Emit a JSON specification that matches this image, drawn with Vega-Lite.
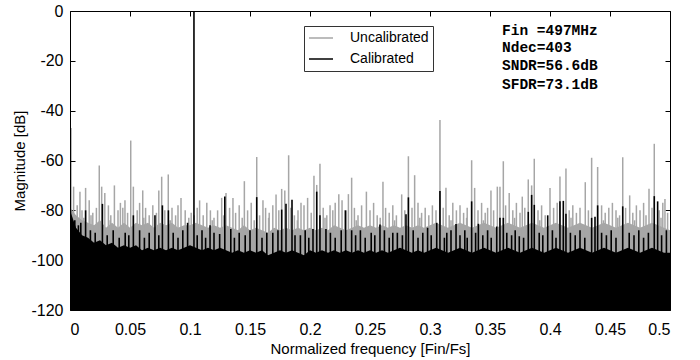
{
  "$schema": "https://vega.github.io/schema/vega-lite/v6.json",
  "width": 600,
  "height": 299,
  "autosize": {"type": "none"},
  "padding": {"left": 70, "top": 11, "right": 30, "bottom": 50},
  "background": "white",
  "config": {
    "font": "Liberation Sans",
    "view": {"stroke": "#000", "strokeWidth": 1},
    "axis": {"domain": false, "grid": false, "tickColor": "#000000", "tickWidth": 1, "labelColor": "#000", "labelFont": "Liberation Sans", "labelFontSize": 16, "titleColor": "#000", "titleFont": "Liberation Sans", "titleFontSize": 15, "titleFontWeight": "normal", "zindex": 1},
    "axisX": {"labelPadding": 16, "titlePadding": 4},
    "axisY": {"labelPadding": 12, "titlePadding": 3},
    "legend": {"orient": "none", "legendX": 234, "legendY": 15, "strokeColor": "#333", "fillColor": "white", "padding": 4, "labelFont": "Liberation Sans", "labelFontSize": 14, "labelColor": "#000", "symbolType": "stroke", "symbolSize": 576, "symbolStrokeWidth": 1.5, "labelOffset": 16, "rowPadding": 5, "clipHeight": 16, "title": null}
  },
  "datasets": {
    "floor": [
      {"f":0,"u":-79,"c":-80},{"f":0.005,"u":-82,"c":-87},{"f":0.01,"u":-84,"c":-90},{"f":0.015,"u":-85,"c":-91},{"f":0.02,"u":-86,"c":-93},
      {"f":0.025,"u":-84,"c":-92},{"f":0.03,"u":-87,"c":-94},{"f":0.035,"u":-85,"c":-93},{"f":0.04,"u":-87,"c":-95},{"f":0.045,"u":-85,"c":-94},
      {"f":0.05,"u":-87,"c":-95},{"f":0.055,"u":-85,"c":-94},{"f":0.06,"u":-86,"c":-96},{"f":0.065,"u":-85,"c":-95},{"f":0.07,"u":-87,"c":-96},
      {"f":0.075,"u":-85,"c":-95},{"f":0.08,"u":-86,"c":-96},{"f":0.085,"u":-85,"c":-95},{"f":0.09,"u":-87,"c":-96},{"f":0.095,"u":-86,"c":-95},
      {"f":0.1,"u":-86,"c":-94},{"f":0.105,"u":-85,"c":-95},{"f":0.11,"u":-86,"c":-96},{"f":0.115,"u":-87,"c":-95},{"f":0.12,"u":-86,"c":-96},
      {"f":0.125,"u":-87,"c":-95},{"f":0.13,"u":-86,"c":-96},{"f":0.135,"u":-87,"c":-97},{"f":0.14,"u":-88,"c":-96},{"f":0.145,"u":-86,"c":-97},
      {"f":0.15,"u":-88,"c":-96},{"f":0.155,"u":-87,"c":-97},{"f":0.16,"u":-88,"c":-96},{"f":0.165,"u":-89,"c":-98},{"f":0.17,"u":-87,"c":-97},
      {"f":0.175,"u":-88,"c":-96},{"f":0.18,"u":-87,"c":-97},{"f":0.185,"u":-88,"c":-96},{"f":0.19,"u":-87,"c":-97},{"f":0.195,"u":-88,"c":-98},
      {"f":0.2,"u":-87,"c":-96},{"f":0.205,"u":-88,"c":-97},{"f":0.21,"u":-87,"c":-96},{"f":0.215,"u":-88,"c":-97},{"f":0.22,"u":-86,"c":-96},
      {"f":0.225,"u":-87,"c":-97},{"f":0.23,"u":-88,"c":-96},{"f":0.235,"u":-87,"c":-97},{"f":0.24,"u":-86,"c":-96},{"f":0.245,"u":-87,"c":-97},
      {"f":0.25,"u":-86,"c":-96},{"f":0.255,"u":-87,"c":-97},{"f":0.26,"u":-86,"c":-96},{"f":0.265,"u":-87,"c":-97},{"f":0.27,"u":-86,"c":-96},
      {"f":0.275,"u":-87,"c":-95},{"f":0.28,"u":-86,"c":-96},{"f":0.285,"u":-87,"c":-97},{"f":0.29,"u":-86,"c":-96},{"f":0.295,"u":-87,"c":-97},
      {"f":0.3,"u":-86,"c":-96},{"f":0.305,"u":-85,"c":-95},{"f":0.31,"u":-86,"c":-96},{"f":0.315,"u":-87,"c":-97},{"f":0.32,"u":-86,"c":-96},
      {"f":0.325,"u":-85,"c":-95},{"f":0.33,"u":-86,"c":-96},{"f":0.335,"u":-87,"c":-97},{"f":0.34,"u":-86,"c":-96},{"f":0.345,"u":-85,"c":-95},
      {"f":0.35,"u":-86,"c":-96},{"f":0.355,"u":-87,"c":-97},{"f":0.36,"u":-86,"c":-96},{"f":0.365,"u":-85,"c":-95},{"f":0.37,"u":-86,"c":-96},
      {"f":0.375,"u":-87,"c":-97},{"f":0.38,"u":-86,"c":-96},{"f":0.385,"u":-85,"c":-95},{"f":0.39,"u":-86,"c":-96},{"f":0.395,"u":-87,"c":-97},
      {"f":0.4,"u":-86,"c":-96},{"f":0.405,"u":-85,"c":-95},{"f":0.41,"u":-86,"c":-96},{"f":0.415,"u":-87,"c":-97},{"f":0.42,"u":-86,"c":-96},
      {"f":0.425,"u":-85,"c":-95},{"f":0.43,"u":-86,"c":-96},{"f":0.435,"u":-87,"c":-97},{"f":0.44,"u":-86,"c":-96},{"f":0.445,"u":-85,"c":-95},
      {"f":0.45,"u":-86,"c":-96},{"f":0.455,"u":-87,"c":-97},{"f":0.46,"u":-86,"c":-96},{"f":0.465,"u":-85,"c":-95},{"f":0.47,"u":-86,"c":-96},
      {"f":0.475,"u":-87,"c":-97},{"f":0.48,"u":-86,"c":-96},{"f":0.485,"u":-85,"c":-95},{"f":0.49,"u":-86,"c":-96},{"f":0.495,"u":-87,"c":-97},
      {"f":0.5,"u":-88,"c":-97}
    ],
    "gs": [
      {"f":0.003,"v":-70.5},{"f":0.0083,"v":-72.5},{"f":0.013,"v":-71},{"f":0.0244,"v":-62},{"f":0.0264,"v":-70.5},{"f":0.029,"v":-73},
      {"f":0.037,"v":-70},{"f":0.042,"v":-77},{"f":0.0458,"v":-76},{"f":0.0506,"v":-52},{"f":0.0528,"v":-70.5},{"f":0.0606,"v":-72},
      {"f":0.074,"v":-72},{"f":0.0764,"v":-66.5},{"f":0.0819,"v":-65.6},{"f":0.0925,"v":-75},{"f":0.108,"v":-76},{"f":0.114,"v":-77},
      {"f":0.1264,"v":-75},{"f":0.13,"v":-73},{"f":0.1358,"v":-75},{"f":0.1453,"v":-68.3},{"f":0.1556,"v":-58.6},{"f":0.1608,"v":-76},
      {"f":0.1717,"v":-73.6},{"f":0.1764,"v":-71.4},{"f":0.179,"v":-72},{"f":0.1822,"v":-57.9},{"f":0.1925,"v":-77},{"f":0.198,"v":-75},
      {"f":0.2033,"v":-66.1},{"f":0.2056,"v":-69.8},{"f":0.2083,"v":-61.3},{"f":0.2167,"v":-78},{"f":0.224,"v":-73.5},{"f":0.2267,"v":-76},
      {"f":0.232,"v":-73.5},{"f":0.2347,"v":-66.9},{"f":0.247,"v":-72.5},{"f":0.2608,"v":-68.5},{"f":0.2764,"v":-73.6},{"f":0.282,"v":-58.3},
      {"f":0.2872,"v":-65.9},{"f":0.3083,"v":-43.7},{"f":0.3133,"v":-70.9},{"f":0.3347,"v":-59.9},{"f":0.3372,"v":-71},{"f":0.3508,"v":-72},
      {"f":0.3561,"v":-70.5},{"f":0.3583,"v":-70.5},{"f":0.3611,"v":-60.3},{"f":0.366,"v":-73},{"f":0.3769,"v":-74.5},{"f":0.3819,"v":-67.6},
      {"f":0.3847,"v":-70},{"f":0.3869,"v":-59.3},{"f":0.4,"v":-71},{"f":0.4083,"v":-66.4},{"f":0.4133,"v":-63.2},{"f":0.4294,"v":-68.7},
      {"f":0.4347,"v":-58.9},{"f":0.4397,"v":-62.6},{"f":0.4606,"v":-58.7},{"f":0.4664,"v":-74},{"f":0.4825,"v":-71.3},{"f":0.4869,"v":-53.3},
      {"f":0.4958,"v":-75.5},
      {"f":0.006,"v":-78},{"f":0.01,"v":-80},{"f":0.016,"v":-76},{"f":0.019,"v":-81},{"f":0.022,"v":-79},{"f":0.032,"v":-78},{"f":0.034,"v":-82},
      {"f":0.04,"v":-80},{"f":0.044,"v":-79},{"f":0.048,"v":-81},{"f":0.056,"v":-80},{"f":0.058,"v":-77},{"f":0.063,"v":-79},{"f":0.066,"v":-82},
      {"f":0.069,"v":-78},{"f":0.072,"v":-81},{"f":0.079,"v":-80},{"f":0.085,"v":-79},{"f":0.088,"v":-82},{"f":0.09,"v":-78},{"f":0.096,"v":-80},
      {"f":0.099,"v":-83},{"f":0.101,"v":-81},{"f":0.106,"v":-79},{"f":0.111,"v":-82},{"f":0.117,"v":-80},{"f":0.12,"v":-83},{"f":0.123,"v":-80},
      {"f":0.128,"v":-82},{"f":0.133,"v":-79},{"f":0.138,"v":-81},{"f":0.141,"v":-78},{"f":0.148,"v":-80},{"f":0.151,"v":-77},{"f":0.158,"v":-82},
      {"f":0.163,"v":-79},{"f":0.166,"v":-81},{"f":0.169,"v":-78},{"f":0.174,"v":-80},{"f":0.184,"v":-79},{"f":0.187,"v":-82},{"f":0.19,"v":-80},
      {"f":0.195,"v":-78},{"f":0.201,"v":-81},{"f":0.211,"v":-79},{"f":0.214,"v":-82},{"f":0.219,"v":-80},{"f":0.221,"v":-77},{"f":0.229,"v":-80},
      {"f":0.237,"v":-79},{"f":0.24,"v":-82},{"f":0.243,"v":-78},{"f":0.25,"v":-80},{"f":0.253,"v":-77},{"f":0.256,"v":-82},{"f":0.263,"v":-79},
      {"f":0.266,"v":-81},{"f":0.269,"v":-78},{"f":0.272,"v":-82},{"f":0.279,"v":-80},{"f":0.285,"v":-79},{"f":0.29,"v":-77},{"f":0.293,"v":-81},
      {"f":0.296,"v":-79},{"f":0.299,"v":-82},{"f":0.302,"v":-78},{"f":0.305,"v":-80},{"f":0.311,"v":-79},{"f":0.316,"v":-82},{"f":0.319,"v":-77},
      {"f":0.322,"v":-80},{"f":0.325,"v":-78},{"f":0.328,"v":-81},{"f":0.331,"v":-79},{"f":0.34,"v":-80},{"f":0.343,"v":-77},{"f":0.346,"v":-81},
      {"f":0.348,"v":-79},{"f":0.353,"v":-80},{"f":0.363,"v":-78},{"f":0.369,"v":-80},{"f":0.372,"v":-77},{"f":0.375,"v":-81},{"f":0.379,"v":-79},
      {"f":0.39,"v":-80},{"f":0.393,"v":-78},{"f":0.396,"v":-82},{"f":0.403,"v":-79},{"f":0.406,"v":-77},{"f":0.416,"v":-80},{"f":0.419,"v":-78},
      {"f":0.422,"v":-81},{"f":0.425,"v":-79},{"f":0.432,"v":-80},{"f":0.443,"v":-78},{"f":0.446,"v":-81},{"f":0.449,"v":-79},{"f":0.452,"v":-77},
      {"f":0.455,"v":-80},{"f":0.458,"v":-82},{"f":0.463,"v":-79},{"f":0.469,"v":-81},{"f":0.472,"v":-78},{"f":0.475,"v":-80},{"f":0.478,"v":-77},
      {"f":0.48,"v":-82},{"f":0.485,"v":-79},{"f":0.491,"v":-80},{"f":0.494,"v":-77},{"f":0.498,"v":-81},
      {"f":0.0115,"v":-83},{"f":0.0175,"v":-82},{"f":0.0335,"v":-84},{"f":0.0615,"v":-83},{"f":0.0835,"v":-84},{"f":0.1035,"v":-82},{"f":0.1185,"v":-84},
      {"f":0.1435,"v":-83},{"f":0.1535,"v":-84},{"f":0.1655,"v":-83},{"f":0.1895,"v":-84},{"f":0.2125,"v":-83},{"f":0.2385,"v":-84},{"f":0.2585,"v":-83},
      {"f":0.2705,"v":-84},{"f":0.2915,"v":-83},{"f":0.3175,"v":-84},{"f":0.3305,"v":-83},{"f":0.3445,"v":-84},{"f":0.3705,"v":-83},{"f":0.3915,"v":-84},
      {"f":0.4175,"v":-83},{"f":0.4445,"v":-84},{"f":0.4565,"v":-83},{"f":0.4705,"v":-84},{"f":0.4925,"v":-83}
    ],
    "bs": [
      {"f":0.0004,"v":-47},{"f":0.1033,"v":0},
      {"f":0.013,"v":-80},{"f":0.027,"v":-77.4},{"f":0.0528,"v":-82},{"f":0.0708,"v":-82},{"f":0.077,"v":-78},{"f":0.082,"v":-80},
      {"f":0.098,"v":-85},{"f":0.1167,"v":-86},{"f":0.1247,"v":-89.5},{"f":0.129,"v":-74.4},{"f":0.134,"v":-87.5},{"f":0.1556,"v":-74.7},
      {"f":0.169,"v":-89},{"f":0.1733,"v":-88},{"f":0.1764,"v":-79.7},{"f":0.18,"v":-77.4},{"f":0.185,"v":-75.8},{"f":0.1875,"v":-90},
      {"f":0.2025,"v":-87.5},{"f":0.2056,"v":-72.5},{"f":0.2083,"v":-82},{"f":0.2133,"v":-87.5},{"f":0.2297,"v":-80},{"f":0.2347,"v":-88},
      {"f":0.2583,"v":-85.7},{"f":0.2728,"v":-89},{"f":0.28,"v":-81.6},{"f":0.282,"v":-74.8},{"f":0.3056,"v":-85},{"f":0.3083,"v":-72.2},
      {"f":0.3175,"v":-88},{"f":0.3217,"v":-85.5},{"f":0.3347,"v":-76.4},{"f":0.3403,"v":-85.4},{"f":0.3556,"v":-86.5},{"f":0.3583,"v":-83},
      {"f":0.3611,"v":-83},{"f":0.3744,"v":-90.4},{"f":0.3819,"v":-80.6},{"f":0.3847,"v":-73.8},{"f":0.3869,"v":-77.8},{"f":0.3981,"v":-82},
      {"f":0.4083,"v":-76.4},{"f":0.4111,"v":-76.2},{"f":0.4133,"v":-81.4},{"f":0.4347,"v":-83},{"f":0.4375,"v":-82.6},{"f":0.4397,"v":-78},
      {"f":0.4606,"v":-78.4},{"f":0.4869,"v":-74.3},{"f":0.4897,"v":-76.4},
      {"f":0.004,"v":-84},{"f":0.007,"v":-86},{"f":0.009,"v":-85},{"f":0.017,"v":-88},{"f":0.021,"v":-89},{"f":0.031,"v":-90},{"f":0.036,"v":-88},
      {"f":0.041,"v":-91},{"f":0.046,"v":-89},{"f":0.049,"v":-90},{"f":0.058,"v":-88},{"f":0.062,"v":-91},{"f":0.066,"v":-89},{"f":0.074,"v":-90},
      {"f":0.086,"v":-89},{"f":0.09,"v":-91},{"f":0.094,"v":-88},{"f":0.106,"v":-90},{"f":0.11,"v":-88},{"f":0.113,"v":-91},{"f":0.12,"v":-89},
      {"f":0.137,"v":-91},{"f":0.141,"v":-89},{"f":0.146,"v":-90},{"f":0.15,"v":-88},{"f":0.16,"v":-91},{"f":0.164,"v":-89},{"f":0.192,"v":-90},
      {"f":0.196,"v":-88},{"f":0.199,"v":-91},{"f":0.217,"v":-89},{"f":0.221,"v":-91},{"f":0.226,"v":-88},{"f":0.238,"v":-90},{"f":0.242,"v":-88},
      {"f":0.246,"v":-91},{"f":0.251,"v":-89},{"f":0.254,"v":-90},{"f":0.262,"v":-88},{"f":0.266,"v":-91},{"f":0.269,"v":-89},{"f":0.277,"v":-90},
      {"f":0.286,"v":-88},{"f":0.29,"v":-91},{"f":0.294,"v":-89},{"f":0.298,"v":-87},{"f":0.301,"v":-90},{"f":0.312,"v":-91},{"f":0.314,"v":-89},
      {"f":0.325,"v":-90},{"f":0.329,"v":-88},{"f":0.331,"v":-91},{"f":0.338,"v":-89},{"f":0.344,"v":-90},{"f":0.348,"v":-88},{"f":0.351,"v":-91},
      {"f":0.364,"v":-89},{"f":0.368,"v":-90},{"f":0.371,"v":-88},{"f":0.378,"v":-91},{"f":0.391,"v":-89},{"f":0.394,"v":-90},{"f":0.402,"v":-88},
      {"f":0.405,"v":-91},{"f":0.417,"v":-89},{"f":0.421,"v":-90},{"f":0.425,"v":-88},{"f":0.429,"v":-91},{"f":0.443,"v":-89},{"f":0.447,"v":-90},
      {"f":0.451,"v":-88},{"f":0.455,"v":-91},{"f":0.466,"v":-89},{"f":0.47,"v":-90},{"f":0.474,"v":-88},{"f":0.478,"v":-91},{"f":0.482,"v":-89},
      {"f":0.493,"v":-90},{"f":0.497,"v":-88}
    ],
    "notes": [
      {"f":0.36,"v":-8.0,"t":"Fin =497MHz"},
      {"f":0.36,"v":-14.9,"t":"Ndec=403"},
      {"f":0.36,"v":-22.1,"t":"SNDR=56.6dB"},
      {"f":0.36,"v":-29.7,"t":"SFDR=73.1dB"}
    ]
  },
  "layer": [
    {
      "layer": [
        {
          "data": {"name": "floor"},
          "mark": {"type": "area", "color": "#a6a6a6", "clip": true},
          "encoding": {
            "x": {"field": "f", "type": "quantitative", "scale": {"domain": [0, 0.5], "nice": false}, "title": "Normalized frequency [Fin/Fs]", "axis": {"values": [0, 0.05, 0.1, 0.15, 0.2, 0.25, 0.3, 0.35, 0.4, 0.45, 0.5], "labelExpr": "'' + datum.value", "tickSize": -5}},
            "y": {"field": "u", "type": "quantitative", "scale": {"domain": [-120, 0], "nice": false}, "title": "Magnitude [dB]", "axis": {"values": [-120, -100, -80, -60, -40, -20, 0], "labelExpr": "'' + datum.value", "tickSize": -5}},
            "y2": {"datum": -120}
          }
        },
        {
          "data": {"name": "gs"},
          "mark": {"type": "rule", "strokeWidth": 1.5, "clip": true},
          "encoding": {
            "x": {"field": "f", "type": "quantitative", "scale": {"domain": [0, 0.5], "nice": false}, "title": "Normalized frequency [Fin/Fs]"},
            "y": {"field": "v", "type": "quantitative", "scale": {"domain": [-120, 0], "nice": false}, "title": "Magnitude [dB]"},
            "y2": {"datum": -120},
            "color": {"datum": "Uncalibrated", "scale": {"domain": ["Uncalibrated", "Calibrated"], "range": ["#a6a6a6", "#000000"]}}
          }
        },
        {
          "data": {"name": "floor"},
          "mark": {"type": "area", "color": "#000000", "clip": true},
          "encoding": {
            "x": {"field": "f", "type": "quantitative", "scale": {"domain": [0, 0.5], "nice": false}, "title": "Normalized frequency [Fin/Fs]"},
            "y": {"field": "c", "type": "quantitative", "scale": {"domain": [-120, 0], "nice": false}, "title": "Magnitude [dB]"},
            "y2": {"datum": -120}
          }
        },
        {
          "data": {"name": "bs"},
          "mark": {"type": "rule", "strokeWidth": 1.6, "clip": true},
          "encoding": {
            "x": {"field": "f", "type": "quantitative", "scale": {"domain": [0, 0.5], "nice": false}, "title": "Normalized frequency [Fin/Fs]"},
            "y": {"field": "v", "type": "quantitative", "scale": {"domain": [-120, 0], "nice": false}, "title": "Magnitude [dB]"},
            "y2": {"datum": -120},
            "color": {"datum": "Calibrated", "scale": {"domain": ["Uncalibrated", "Calibrated"], "range": ["#a6a6a6", "#000000"]}}
          }
        },
        {
          "data": {"name": "notes"},
          "mark": {"type": "text", "align": "left", "baseline": "middle", "font": "Liberation Mono", "fontWeight": "bold", "fontSize": 14.5, "color": "#000"},
          "encoding": {
            "x": {"field": "f", "type": "quantitative", "scale": {"domain": [0, 0.5], "nice": false}, "title": "Normalized frequency [Fin/Fs]"},
            "y": {"field": "v", "type": "quantitative", "scale": {"domain": [-120, 0], "nice": false}, "title": "Magnitude [dB]"},
            "text": {"field": "t"}
          }
        }
      ]
    },
    {
      "data": {"name": "floor"},
      "mark": {"type": "point", "opacity": 0},
      "encoding": {
        "x": {"field": "f", "type": "quantitative", "scale": {"domain": [0, 0.5], "nice": false}, "axis": {"orient": "top", "labels": false, "title": null, "tickSize": 5, "offset": -5, "values": [0, 0.05, 0.1, 0.15, 0.2, 0.25, 0.3, 0.35, 0.4, 0.45, 0.5]}},
        "y": {"field": "u", "type": "quantitative", "scale": {"domain": [-120, 0], "nice": false}, "axis": {"orient": "right", "labels": false, "title": null, "tickSize": 5, "offset": -5, "values": [-120, -100, -80, -60, -40, -20, 0]}}
      }
    }
  ],
  "resolve": {"axis": {"x": "independent", "y": "independent"}}
}
